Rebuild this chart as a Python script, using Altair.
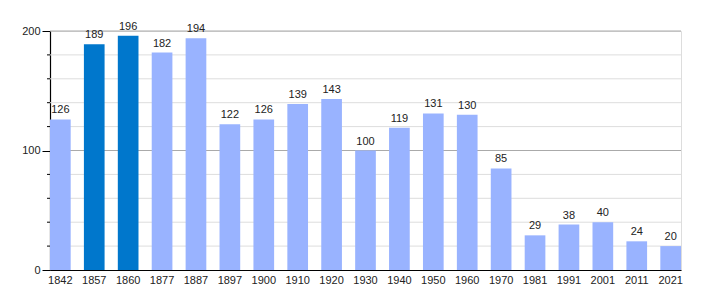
import altair as alt
import pandas as pd

years = ["1842", "1857", "1860", "1877", "1887", "1897", "1900", "1910", "1920", "1930",
         "1940", "1950", "1960", "1970", "1981", "1991", "2001", "2011", "2021"]
population = [126, 189, 196, 182, 194, 122, 126, 139, 143, 100,
              119, 131, 130, 85, 29, 38, 40, 24, 20]
highlight = ["1857", "1860"]
major_grid = [100, 200]
minor_grid = [20, 40, 60, 80, 120, 140, 160, 180]

df = pd.DataFrame({"year": years, "pop": population,
                   "hl": ["dark" if y in highlight else "light" for y in years]})
minor_df = pd.DataFrame({"v": minor_grid})
major_df = pd.DataFrame({"v": major_grid})

FONT = "Liberation Sans"
yscale = alt.Scale(domain=[0, 200], nice=False, zero=True)

minor = alt.Chart(minor_df).mark_rule(color="#dddddd", strokeWidth=1).encode(
    y=alt.Y("v:Q", scale=yscale))
minor_ticks = alt.Chart(minor_df).mark_rule(color="#000000", strokeWidth=1).encode(
    y=alt.Y("v:Q", scale=yscale), x=alt.value(-3), x2=alt.value(0))
major = alt.Chart(major_df).mark_rule(color="#aaaaaa", strokeWidth=1).encode(
    y=alt.Y("v:Q", scale=yscale))

xenc = alt.X("year:N", sort=years,
             scale=alt.Scale(paddingInner=0.39, paddingOuter=0),
             axis=alt.Axis(title=None, labelAngle=0, ticks=False, domain=True,
                           domainColor="#000000", domainWidth=1.2,
                           labelFont=FONT, labelFontSize=11, labelColor="#222222",
                           labelPadding=4))

bars = alt.Chart(df).mark_bar().encode(
    x=xenc,
    y=alt.Y("pop:Q", scale=yscale,
            axis=alt.Axis(title=None, values=[0, 100, 200], grid=False,
                          domainColor="#000000", domainWidth=1.2,
                          tickColor="#000000", tickSize=8,
                          labelFont=FONT, labelFontSize=11, labelColor="#222222",
                          labelPadding=2)),
    color=alt.Color("hl:N", scale=alt.Scale(domain=["light", "dark"],
                                            range=["#99b3ff", "#0077cc"]), legend=None),
)

labels = alt.Chart(df).mark_text(baseline="bottom", dy=-4, font=FONT, fontSize=11,
                                 color="#222222").encode(
    x=alt.X("year:N", sort=years), y=alt.Y("pop:Q", scale=yscale), text="pop:Q")

chart = alt.layer(minor, major, bars, labels, minor_ticks).properties(
    width=631, height=239,
    autosize=alt.AutoSizeParams(type="none"),
    padding={"left": 50, "top": 31, "right": 29, "bottom": 30},
).configure_view(stroke=None).configure(background="#ffffff")

chart.save("out.html", embed_options={"renderer": "svg", "actions": False})
